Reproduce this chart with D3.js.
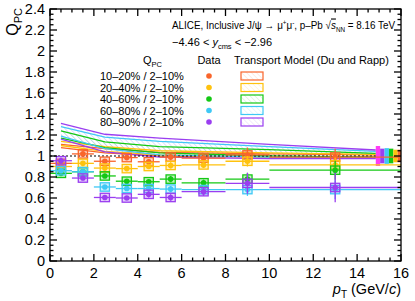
<!DOCTYPE html>
<html>
<head>
<meta charset="utf-8">
<script src="https://cdn.jsdelivr.net/npm/d3@7"></script>
<style>
  body { margin: 0; background: #fff; }
  svg { font-family: "Liberation Sans", Arial, sans-serif; }
</style>
</head>
<body>
<div id="chart"></div>
<script>
const width = 415;
const height = 301;

// centrality classes (ratio to 2-10%)
const classes = ["10–20%", "20–40%", "40–60%", "60–80%", "80–90%"];
const colors = ["#f9652b", "#ffc20e", "#14c814", "#3fc8f5", "#9a3ef0"];

// pT bins
const ptLow  = [0, 1, 2, 3, 4, 5, 6, 8, 10];
const ptHigh = [1, 2, 3, 4, 5, 6, 8, 10, 16];
const ptMid  = [0.5, 1.5, 2.5, 3.5, 4.5, 5.5, 7, 9, 13];

// Q_PC values per class
const q1020 = [0.93, 1.02, 0.95, 0.985, 0.945, 0.99, 0.98, 1.01, 0.99];
const q2040 = [0.90, 0.93, 0.885, 0.88, 0.90, 0.91, 0.915, 0.95, 0.915];
const q4060 = [0.835, 0.85, 0.81, 0.76, 0.755, 0.78, 0.745, 0.78, 0.865];
const q6080 = [0.86, 0.85, 0.705, 0.69, 0.69, 0.685, 0.68, 0.68, 0.68];
const q8090 = [0.955, 0.79, 0.605, 0.60, 0.635, 0.605, 0.66, 0.74, 0.70];

// statistical uncertainties
const stat1020 = [0.02, 0.02, 0.02, 0.02, 0.02, 0.03, 0.03, 0.07, 0.08];
const stat2040 = [0.02, 0.02, 0.02, 0.02, 0.02, 0.03, 0.03, 0.05, 0.07];
const stat4060 = [0.02, 0.02, 0.02, 0.02, 0.02, 0.03, 0.03, 0.06, 0.09];
const stat6080 = [0.02, 0.02, 0.02, 0.02, 0.02, 0.03, 0.03, 0.06, 0.09];
const stat8090 = [0.03, 0.02, 0.02, 0.02, 0.03, 0.03, 0.04, 0.10, 0.14];

// systematic (uncorrelated) uncertainties
const sys1020 = [0.04, 0.04, 0.04, 0.04, 0.04, 0.04, 0.04, 0.04, 0.04];
const sys2040 = [0.04, 0.04, 0.04, 0.04, 0.04, 0.04, 0.04, 0.04, 0.04];
const sys4060 = [0.04, 0.04, 0.04, 0.04, 0.04, 0.04, 0.04, 0.04, 0.04];
const sys6080 = [0.04, 0.04, 0.04, 0.04, 0.04, 0.04, 0.04, 0.04, 0.04];
const sys8090 = [0.04, 0.04, 0.04, 0.04, 0.04, 0.04, 0.04, 0.04, 0.04];

// correlated uncertainties (boxes at the right edge)
const globalColors = ["#ff3cf5", "#9a3ef0", "#3fc8f5", "#14c814", "#ffc20e", "#f9652b"];
const globalUnc = [0.095, 0.07, 0.075, 0.07, 0.06, 0.06];

// transport model (Du and Rapp) bands
const modelPt = [0.5, 2.5, 5, 10, 14.85];
const modelHi = [
  [1.11, 1.07, 1.035, 1.02, 1.01],
  [1.14, 1.09, 1.05, 1.03, 1.015],
  [1.24, 1.135, 1.09, 1.06, 1.025],
  [1.28, 1.18, 1.14, 1.09, 1.045],
  [1.31, 1.207, 1.17, 1.11, 1.057]
];
const modelLo = [
  [1.08, 1.03, 1.0, 0.99, 0.99],
  [1.10, 1.045, 1.01, 0.99, 0.985],
  [1.17, 1.08, 1.03, 1.0, 0.99],
  [1.19, 1.07, 1.01, 0.99, 0.98],
  [1.16, 1.04, 0.99, 0.975, 0.975]
];

const xTicks = [0, 2, 4, 6, 8, 10, 12, 14, 16];
const yTicks = [0, 0.2, 0.4, 0.6, 0.8, 1, 1.2, 1.4, 1.6, 1.8, 2, 2.2, 2.4];

const qs = [q1020, q2040, q4060, q6080, q8090];
const stats = [stat1020, stat2040, stat4060, stat6080, stat8090];
const syss = [sys1020, sys2040, sys4060, sys6080, sys8090];

const x = d3.scaleLinear().domain([0, 16]).range([50, 401]);
const y = d3.scaleLinear().domain([0, 2.4]).range([261, 9]);

const svg = d3.select("#chart").append("svg")
  .attr("width", width)
  .attr("height", height);

const defs = svg.append("defs");
colors.forEach((c, i) => {
  const p = defs.append("pattern")
    .attr("id", "hatch" + i)
    .attr("patternUnits", "userSpaceOnUse")
    .attr("width", 3.5)
    .attr("height", 3.5)
    .attr("patternTransform", "rotate(-45)");
  p.append("line")
    .attr("x1", 0).attr("y1", 0).attr("x2", 0).attr("y2", 3.5)
    .attr("stroke", c)
    .attr("stroke-width", 0.6)
    .attr("stroke-opacity", 0.4);
});

defs.append("clipPath").attr("id", "plotclip")
  .append("rect")
  .attr("x", x(0)).attr("y", y(2.4))
  .attr("width", x(16) - x(0)).attr("height", y(0) - y(2.4));

const plot = svg.append("g").attr("clip-path", "url(#plotclip)");

// model bands
const bandArea = d3.area()
  .x(d => x(d.pt))
  .y0(d => y(d.lo))
  .y1(d => y(d.hi));
const line = d3.line().x(d => x(d[0])).y(d => y(d[1]));

classes.forEach((c, i) => {
  const pts = modelPt.map((pt, j) => ({ pt: pt, lo: modelLo[i][j], hi: modelHi[i][j] }));
  plot.append("path")
    .attr("d", bandArea(pts))
    .attr("fill", `url(#hatch${i})`);
});
classes.forEach((c, i) => {
  [modelHi[i], modelLo[i]].forEach(arr => {
    plot.append("path")
      .attr("d", line(modelPt.map((pt, j) => [pt, arr[j]])))
      .attr("fill", "none")
      .attr("stroke", colors[i])
      .attr("stroke-width", 1.3);
  });
});

// correlated uncertainty boxes
globalUnc.forEach((u, i) => {
  plot.append("rect")
    .attr("x", x(14.85 + i * 0.2))
    .attr("width", x(0.2) - x(0))
    .attr("y", y(1 + u))
    .attr("height", y(1 - u) - y(1 + u))
    .attr("fill", globalColors[i]);
});

// dotted line at unity
plot.append("line")
  .attr("x1", x(0)).attr("x2", x(14.85))
  .attr("y1", y(1)).attr("y2", y(1))
  .attr("stroke", "#000")
  .attr("stroke-width", 1.2)
  .attr("stroke-dasharray", "2,2");

// data
classes.forEach((c, i) => {
  const g = plot.append("g");
  ptMid.forEach((pt, j) => {
    const v = qs[i][j];
    g.append("line")
      .attr("x1", x(ptLow[j])).attr("x2", x(ptHigh[j]))
      .attr("y1", y(v)).attr("y2", y(v))
      .attr("stroke", colors[i]).attr("stroke-width", 1.3);
    g.append("line")
      .attr("x1", x(pt)).attr("x2", x(pt))
      .attr("y1", y(v - stats[i][j])).attr("y2", y(v + stats[i][j]))
      .attr("stroke", colors[i]).attr("stroke-width", 1.3);
    g.append("rect")
      .attr("x", x(pt - 0.21)).attr("width", x(0.42) - x(0))
      .attr("y", y(v + syss[i][j])).attr("height", y(v - syss[i][j]) - y(v + syss[i][j]))
      .attr("fill", colors[i]).attr("fill-opacity", 0.25)
      .attr("stroke", colors[i]).attr("stroke-width", 1.3);
    g.append("circle")
      .attr("cx", x(pt)).attr("cy", y(v)).attr("r", 2.8)
      .attr("fill", colors[i]);
  });
});

// axes
const xMinor = d3.range(0, 16.01, 0.5);
const yMinor = d3.range(0, 2.401, 0.05);
const axes = svg.append("g").attr("stroke", "#000").attr("stroke-width", 1.3);
axes.append("rect")
  .attr("x", x(0)).attr("y", y(2.4))
  .attr("width", x(16) - x(0)).attr("height", y(0) - y(2.4))
  .attr("fill", "none");
xMinor.forEach(v => {
  const len = Math.abs(v % 2) < 1e-6 ? 7 : 3.5;
  axes.append("line").attr("x1", x(v)).attr("x2", x(v)).attr("y1", y(0)).attr("y2", y(0) - len);
  axes.append("line").attr("x1", x(v)).attr("x2", x(v)).attr("y1", y(2.4)).attr("y2", y(2.4) + len);
});
yMinor.forEach(v => {
  const major = Math.abs(Math.round(v / 0.2) * 0.2 - v) < 1e-6;
  const len = major ? 7 : 3.5;
  axes.append("line").attr("x1", x(0)).attr("x2", x(0) + len).attr("y1", y(v)).attr("y2", y(v));
  axes.append("line").attr("x1", x(16)).attr("x2", x(16) - len).attr("y1", y(v)).attr("y2", y(v));
});

svg.append("g").selectAll("text").data(xTicks).join("text")
  .attr("x", d => x(d)).attr("y", 278)
  .attr("text-anchor", "middle")
  .attr("font-size", 14.5)
  .text(d => d);
svg.append("g").selectAll("text").data(yTicks).join("text")
  .attr("x", 45).attr("y", d => y(d) + 5)
  .attr("text-anchor", "end")
  .attr("font-size", 14.5)
  .text(d => d3.format("~g")(d));

// axis titles
svg.append("text")
  .attr("transform", "translate(18,8) rotate(-90)")
  .attr("text-anchor", "end")
  .attr("font-size", 16)
  .html('Q<tspan font-size="11" dy="4">PC</tspan>');
svg.append("text")
  .attr("x", 401).attr("y", 294)
  .attr("text-anchor", "end")
  .attr("font-size", 14.5)
  .html('<tspan font-style="italic">p</tspan><tspan font-size="10" dy="4">T</tspan><tspan dy="-4"> (GeV/</tspan><tspan font-style="italic">c</tspan>)');

// title, squeezed to the width it has in the original
const title = svg.append("text")
  .attr("x", 0).attr("y", 0)
  .attr("font-size", 11)
  .html('ALICE, Inclusive J/ψ → μ<tspan font-size="7" dy="-4">+</tspan><tspan dy="4">μ</tspan><tspan font-size="7" dy="-4">-</tspan><tspan dy="4">, p–Pb √</tspan><tspan font-style="italic" text-decoration="overline">s</tspan><tspan font-size="7" dy="3">NN</tspan><tspan dy="-3"> = 8.16 TeV</tspan>');
const tw = title.node().getBBox().width;
const sx = Math.min(1, 224 / tw);
title.attr("transform", `translate(172,29) scale(${sx},1)`);

svg.append("text")
  .attr("x", 172).attr("y", 46)
  .attr("font-size", 11)
  .html('−4.46 &lt; <tspan font-style="italic">y</tspan><tspan font-size="7.5" dy="3">cms</tspan><tspan dy="-3"> &lt; −2.96</tspan>');

// legend
const leg = svg.append("g").attr("font-size", 11);
leg.append("text").attr("x", 143).attr("y", 64)
  .html('Q<tspan font-size="7.5" dy="3">PC</tspan>');
leg.append("text").attr("x", 209).attr("y", 64).attr("text-anchor", "middle").text("Data");
leg.append("text").attr("x", 234).attr("y", 64).text("Transport Model (Du and Rapp)");
const rowY = [76, 87.5, 99, 110.5, 122];
classes.forEach((c, i) => {
  leg.append("text").attr("x", 100).attr("y", rowY[i] + 4).text(`${c} / 2–10%`);
  leg.append("circle").attr("cx", 209).attr("cy", rowY[i]).attr("r", 2.8).attr("fill", colors[i]);
  leg.append("rect")
    .attr("x", 241).attr("y", rowY[i] - 4)
    .attr("width", 22).attr("height", 8)
    .attr("fill", `url(#hatch${i})`)
    .attr("stroke", colors[i]).attr("stroke-width", 1.2);
});
</script>
</body>
</html>
